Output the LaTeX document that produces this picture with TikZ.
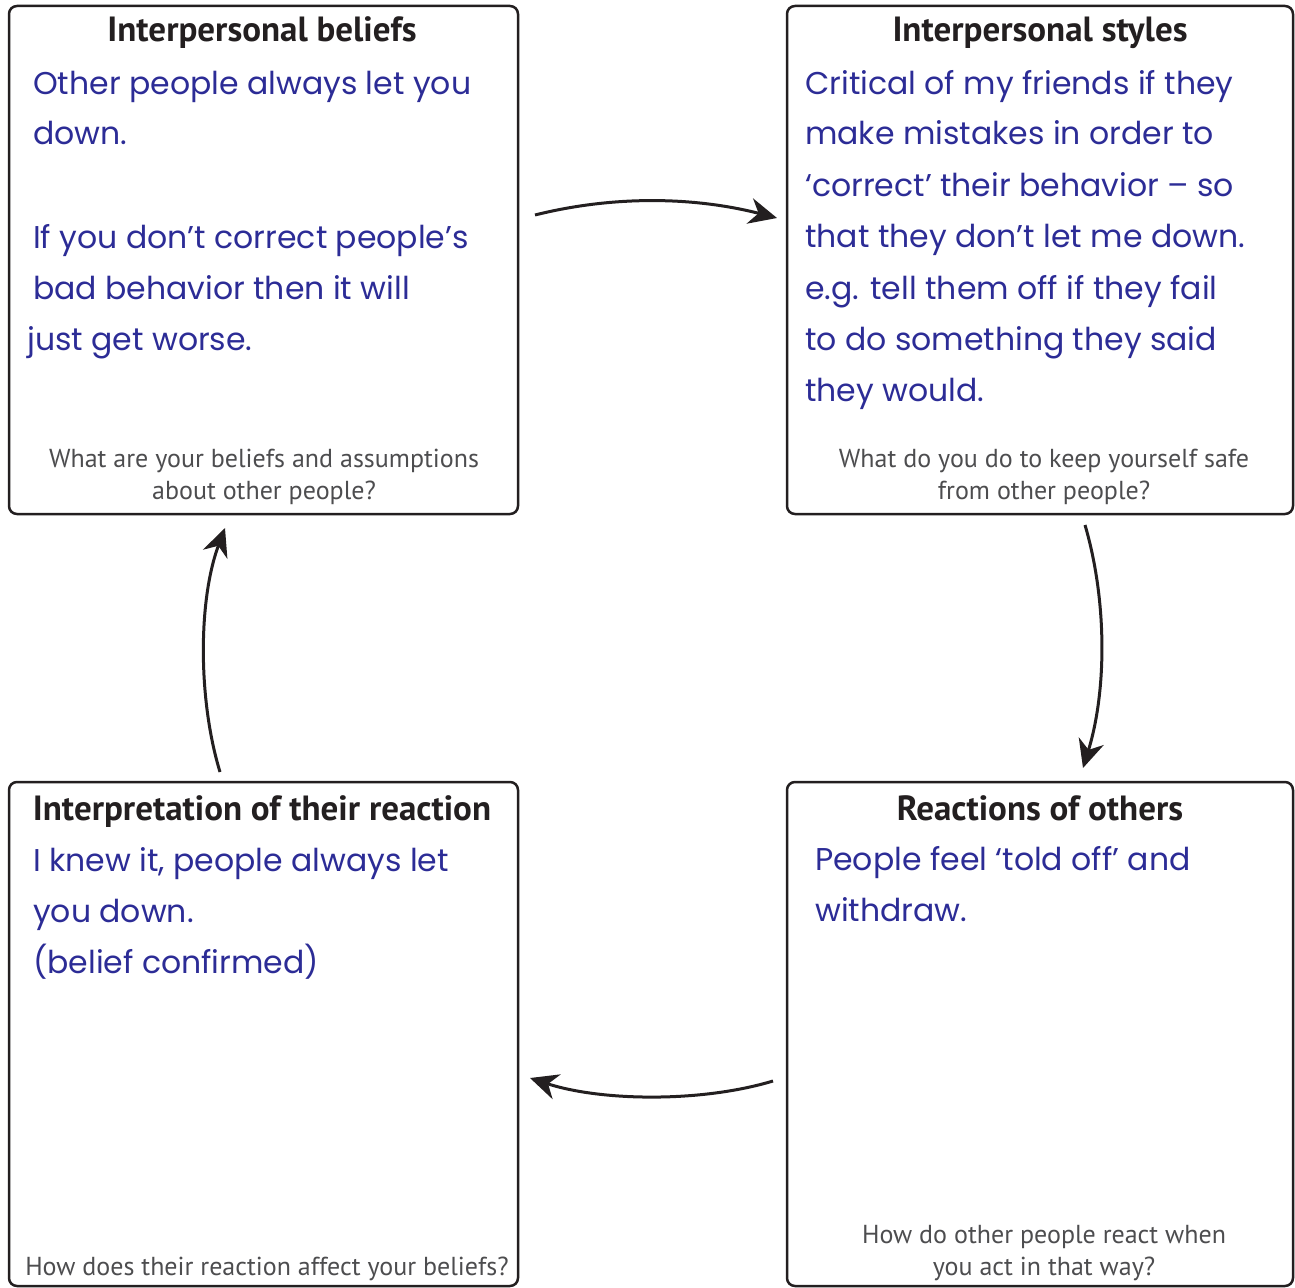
\documentclass[tikz,border=0pt]{standalone}
\usepackage{fontspec}
\usetikzlibrary{arrows.meta}
\setmainfont{PT Sans}
\newfontfamily\handfont{Poppins}
\definecolor{ink}{HTML}{231F20}
\definecolor{note}{HTML}{4D4D4F}
\definecolor{pen}{RGB}{44,44,150}
\tikzset{
  panel/.style={draw=ink, line width=2.5pt, rounded corners=8pt, inner sep=0pt},
  heading/.style={font=\bfseries\fontsize{35}{40}\selectfont, text=ink, inner sep=0pt, anchor=base},
  hand/.style={font=\handfont\fontsize{31.5}{36}\selectfont, text=pen, inner sep=0pt, anchor=base west},
  prompt/.style={font=\fontsize{26}{30}\selectfont, text=note, inner sep=0pt, anchor=base},
  flow/.style={draw=ink, line width=3pt, -{Stealth[length=28pt, width=26pt, inset=9pt]}}
}
\begin{document}
\begin{tikzpicture}[x=1pt, y=-1pt]
\useasboundingbox (0,0) rectangle (1295,1287);

% four panels
\node[panel, minimum width=509pt, minimum height=508pt] (beliefs) at (263.5,260) {};
\node[panel, minimum width=506pt, minimum height=508pt] (styles) at (1040,260) {};
\node[panel, minimum width=509pt, minimum height=504pt] (interp) at (263.5,1034) {};
\node[panel, minimum width=506pt, minimum height=504pt] (reactions) at (1040,1034) {};

% headings
\node[heading] (h1) at (262,42) {Interpersonal beliefs};
\node[heading] (h2) at (1040,42) {Interpersonal styles};
\node[heading] (h3) at (262,820) {Interpretation of their reaction};
\node[heading] (h4) at (1040,820) {Reactions of others};

% handwritten answers: beliefs
\node[hand] (b1) at (33,95) {Other people always let you};
\node[hand] (b2) at (33,145) {down.};
\node[hand] (b3) at (33,248) {If you don’t correct people’s};
\node[hand] (b4) at (33,299) {bad behavior then it will};
\node[hand] (b5) at (27,350) {just get worse.};

% handwritten answers: styles
\node[hand] (s1) at (805,95) {Critical of my friends if they};
\node[hand] (s2) at (805,145) {make mistakes in order to};
\node[hand] (s3) at (805,196) {‘correct’ their behavior – so};
\node[hand] (s4) at (805,247) {that they don’t let me down.};
\node[hand] (s5) at (805,299) {e.g. tell them off if they fail};
\node[hand] (s6) at (805,350) {to do something they said};
\node[hand] (s7) at (805,401) {they would.};

% handwritten answers: interpretation
\node[hand] (i1) at (33,871) {I knew it, people always let};
\node[hand] (i2) at (33,922) {you down.};
\node[hand] (i3) at (33,973) {(belief confirmed)};

% handwritten answers: reactions
\node[hand] (r1) at (815,870) {People feel ‘told off’ and};
\node[hand] (r2) at (815,921) {withdraw.};

% prompts
\node[prompt] (p1a) at (264,467) {What are your beliefs and assumptions};
\node[prompt] (p1b) at (264,499) {about other people?};
\node[prompt] (p2a) at (1044,467) {What do you do to keep yourself safe};
\node[prompt] (p2b) at (1044,499) {from other people?};
\node[prompt] (p3) at (267,1275) {How does their reaction affect your beliefs?};
\node[prompt] (p4a) at (1044,1243) {How do other people react when};
\node[prompt] (p4b) at (1044,1275) {you act in that way?};

% cycle arrows
\coordinate (a1s) at (535,215);
\coordinate (a1e) at (777,218);
\coordinate (a2s) at (1085,525);
\coordinate (a2e) at (1083,768);
\coordinate (a3s) at (773,1081);
\coordinate (a3e) at (530,1078);
\coordinate (a4s) at (220,772);
\coordinate (a4e) at (225,528);

\draw[flow] (a1s) .. controls (615,195) and (695,197) .. (a1e);
\draw[flow] (a2s) .. controls (1107,600) and (1107,690) .. (a2e);
\draw[flow] (a3s) .. controls (700,1103) and (600,1101) .. (a3e);
\draw[flow] (a4s) .. controls (198,700) and (198,600) .. (a4e);
\end{tikzpicture}
\end{document}
